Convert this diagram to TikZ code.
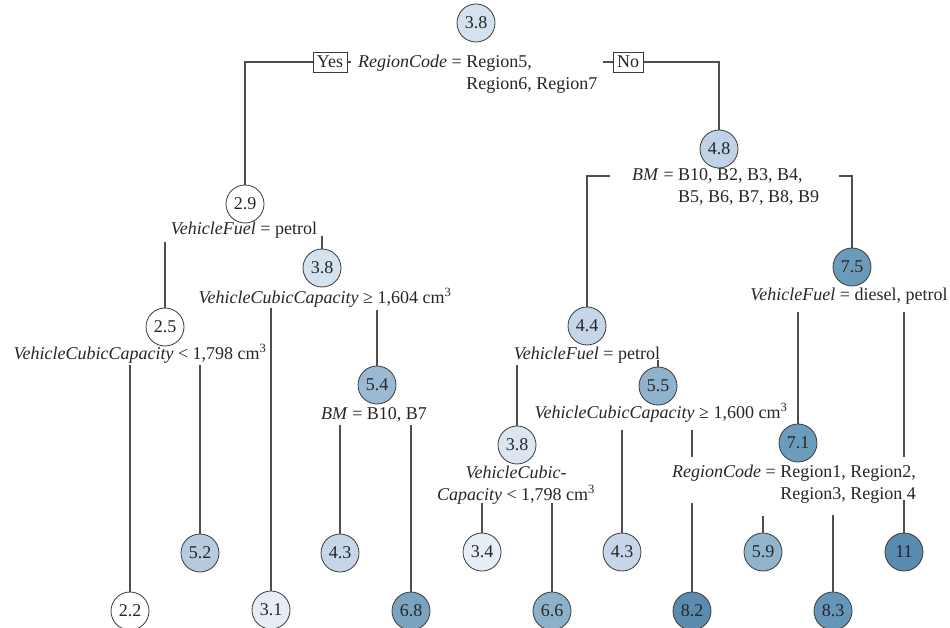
\documentclass[tikz,border=0pt]{standalone}
\usepackage{fontspec}
\setmainfont{Liberation Serif}
\definecolor{ln}{HTML}{4E4E4E}
\definecolor{circ}{HTML}{3A3A3A}
\definecolor{txt}{HTML}{262626}
\definecolor{fwhite}{HTML}{FFFFFF}
\definecolor{fa}{HTML}{D4E1EE}
\definecolor{fb}{HTML}{E6EDF6}
\definecolor{fc}{HTML}{B8CADF}
\definecolor{fd}{HTML}{9AB9D3}
\definecolor{fe}{HTML}{C6D6E8}
\definecolor{ff}{HTML}{7AA3BF}
\definecolor{fg}{HTML}{C0D2E7}
\definecolor{fh}{HTML}{DCE6F1}
\definecolor{fi}{HTML}{8DB1CA}
\definecolor{fj}{HTML}{8FB2CD}
\definecolor{fk}{HTML}{5B8CB0}
\definecolor{fl}{HTML}{6A9BBB}
\definecolor{fm}{HTML}{6C9CBC}
\definecolor{fn}{HTML}{91B5CC}
\definecolor{fo}{HTML}{6596B8}
\definecolor{fp}{HTML}{5A8CB0}
\tikzset{
  val/.style={circle, draw=circ, line width=0.8pt, minimum size=38pt, inner sep=0pt, text=txt},
  lbl/.style={inner sep=0pt, text=txt},
  ansbox/.style={draw=circ, line width=0.8pt, inner xsep=4pt, inner ysep=0pt, minimum height=20pt, fill=white, text=txt},
  conn/.style={draw=ln, line width=1.4pt},
}
\begin{document}
\begin{tikzpicture}[x=1pt,y=-1pt, every node/.append style={font=\fontsize{18}{22}\selectfont}]
\fill[white] (0,0) rectangle (950,628);
\useasboundingbox (0,0) rectangle (950,628);

% value nodes
\node[val, fill=fa] (r0) at (476,23) {3.8};
\node[val, fill=fwhite] (n29) at (245,204) {2.9};
\node[val, fill=fwhite] (n25) at (165,327) {2.5};
\node[val, fill=fa] (n38a) at (322,268) {3.8};
\node[val, fill=fwhite] (n22) at (130,611) {2.2};
\node[val, fill=fc] (n52) at (200,553) {5.2};
\node[val, fill=fb] (n31) at (271,610) {3.1};
\node[val, fill=fd] (n54) at (377,385) {5.4};
\node[val, fill=fe] (n43a) at (340,553) {4.3};
\node[val, fill=ff] (n68) at (411,611) {6.8};
\node[val, fill=fg] (n48) at (719,149) {4.8};
\node[val, fill=fe] (n44) at (587,326) {4.4};
\node[val, fill=fh] (n38b) at (517,445) {3.8};
\node[val, fill=fb] (n34) at (482,552) {3.4};
\node[val, fill=fi] (n66) at (552,611) {6.6};
\node[val, fill=fj] (n55) at (658,386) {5.5};
\node[val, fill=fe] (n43b) at (622,552) {4.3};
\node[val, fill=fk] (n82) at (692,611) {8.2};
\node[val, fill=fl] (n75) at (852,267) {7.5};
\node[val, fill=fm] (n71) at (798,443) {7.1};
\node[val, fill=fn] (n59) at (763,552) {5.9};
\node[val, fill=fo] (n83) at (833,611) {8.3};
\node[val, fill=fp] (n11) at (904,552) {11};

% yes / no boxes
\node[ansbox] (yes) at (330,62) {Yes};
\node[ansbox] (no) at (628,62) {No};

% split labels
\node[lbl, anchor=base west] (L0) at (358,68)
  {\begin{tabular}[t]{@{}r@{\ }l@{}}\textit{RegionCode} = & Region5,\\ & Region6, Region7\end{tabular}};
\node[lbl, anchor=base] (L29) at (244,235) {\textit{VehicleFuel} = petrol};
\node[lbl, anchor=base] (L38a) at (325,303) {\textit{VehicleCubicCapacity} ≥ 1,604 cm\textsuperscript{3}};
\node[lbl, anchor=base] (L25) at (140,359) {\textit{VehicleCubicCapacity} < 1,798 cm\textsuperscript{3}};
\node[lbl, anchor=base] (L54) at (374,419) {\textit{BM} = B10, B7};
\node[lbl, anchor=base west] (L48) at (632,181)
  {\begin{tabular}[t]{@{}r@{\ }l@{}}\textit{BM} = & B10, B2, B3, B4,\\ & B5, B6, B7, B8, B9\end{tabular}};
\node[lbl, anchor=base] (L44) at (587,359) {\textit{VehicleFuel} = petrol};
\node[lbl, anchor=base] (L55) at (661,418) {\textit{VehicleCubicCapacity} ≥ 1,600 cm\textsuperscript{3}};
\node[lbl, anchor=base] (L38b) at (516,478)
  {\begin{tabular}[t]{@{}c@{}}\textit{VehicleCubic-}\\\textit{Capacity} < 1,798 cm\textsuperscript{3}\end{tabular}};
\node[lbl, anchor=base] (L75) at (849,301) {\textit{VehicleFuel} = diesel, petrol};
\node[lbl, anchor=base west] (L71) at (672,477)
  {\begin{tabular}[t]{@{}r@{\ }l@{}}\textit{RegionCode} = & Region1, Region2,\\ & Region3, Region 4\end{tabular}};

% connector start points
\coordinate (yt) at (351,62);
\coordinate (nt) at (603,62);
\coordinate (c25) at (165,242);
\coordinate (c38a) at (322,236);
\coordinate (c22) at (130,365);
\coordinate (c52) at (200,365);
\coordinate (c31) at (271,308);
\coordinate (c54) at (377,310);
\coordinate (c43a) at (340,425);
\coordinate (c68) at (411,425);
\coordinate (bl) at (610,176);
\coordinate (br) at (839,176);
\coordinate (c38b) at (517,365);
\coordinate (c55) at (658,360);
\coordinate (c34) at (482,503);
\coordinate (c66) at (552,503);
\coordinate (c43b) at (622,430);
\coordinate (c82a) at (692,430);
\coordinate (c82b) at (692,457);
\coordinate (c82c) at (692,503);
\coordinate (c71) at (798,312);
\coordinate (c11a) at (904,312);
\coordinate (c11b) at (904,457);
\coordinate (c11c) at (904,500);
\coordinate (c59) at (763,516);
\coordinate (c83) at (833,515);

% connectors
\draw[conn] (yes.west) -| (n29.north);
\draw[conn] (yes.east) -- (yt);
\draw[conn] (no.east) -| (n48.north);
\draw[conn] (nt) -- (no.west);
\draw[conn] (c25) -- (n25);
\draw[conn] (c38a) -- (n38a);
\draw[conn] (c22) -- (n22);
\draw[conn] (c52) -- (n52);
\draw[conn] (c31) -- (n31);
\draw[conn] (c54) -- (n54);
\draw[conn] (c43a) -- (n43a);
\draw[conn] (c68) -- (n68);
\draw[conn] (bl) -| (n44.north);
\draw[conn] (br) -| (n75.north);
\draw[conn] (c38b) -- (n38b);
\draw[conn] (c55) -- (n55);
\draw[conn] (c34) -- (n34);
\draw[conn] (c66) -- (n66);
\draw[conn] (c43b) -- (n43b);
\draw[conn] (c82a) -- (c82b);
\draw[conn] (c82c) -- (n82);
\draw[conn] (c71) -- (n71);
\draw[conn] (c11a) -- (c11b);
\draw[conn] (c11c) -- (n11);
\draw[conn] (c59) -- (n59);
\draw[conn] (c83) -- (n83);
\end{tikzpicture}
\end{document}
